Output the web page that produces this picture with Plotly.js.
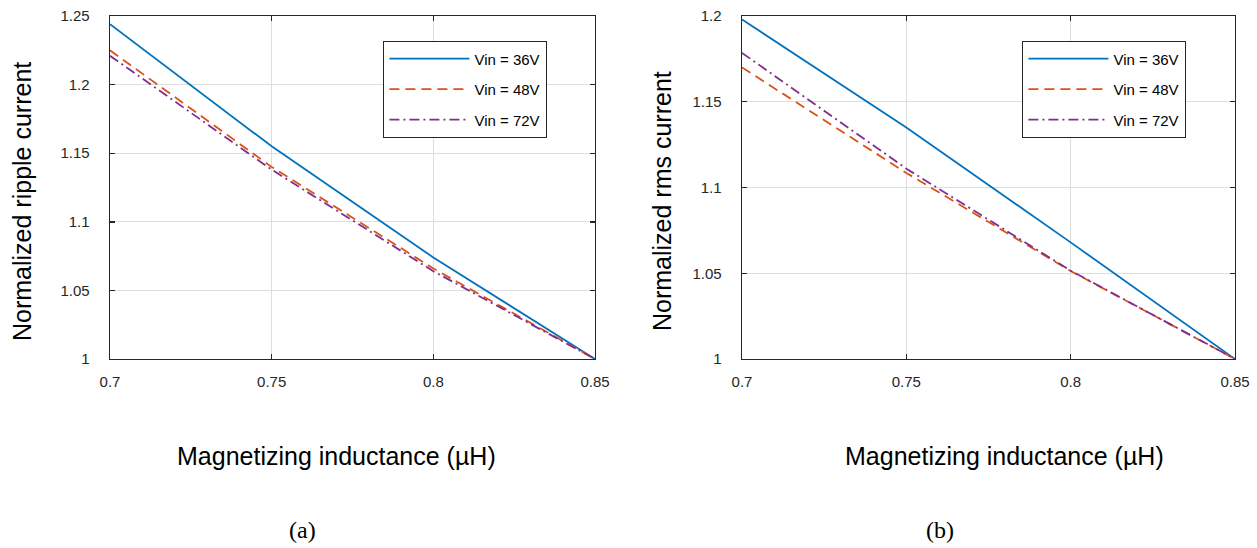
<!DOCTYPE html>
<html>
<head>
<meta charset="utf-8">
<script src="https://cdn.plot.ly/plotly-3.0.1.min.js"></script>
<style>html,body{margin:0;padding:0;background:#fff;}</style>
</head>
<body>
<div id="chart" style="width:1257px;height:548px;"></div>
<script>
// ---- data ----
const inductance = [0.7, 0.75, 0.8, 0.85];
const seriesNames = ['Vin = 36V', 'Vin = 48V', 'Vin = 72V'];

const rippleVin36 = [1.244, 1.155, 1.074, 1.0];
const rippleVin48 = [1.225, 1.140, 1.066, 1.0];
const rippleVin72 = [1.221, 1.138, 1.064, 1.0];

const rmsVin36 = [1.198, 1.135, 1.068, 1.0];
const rmsVin48 = [1.170, 1.1085, 1.0513, 1.0];
const rmsVin72 = [1.1785, 1.111, 1.0515, 1.0];

const xTickVals = [0.7, 0.75, 0.8, 0.85];
const xTickText = ['0.7', '0.75', '0.8', '0.85'];
const rippleTickVals = [1, 1.05, 1.1, 1.15, 1.2, 1.25];
const rippleTickText = ['1', '1.05', '1.1', '1.15', '1.2', '1.25'];
const rmsTickVals = [1, 1.05, 1.1, 1.15, 1.2];
const rmsTickText = ['1', '1.05', '1.1', '1.15', '1.2'];

const xTitle = 'Magnetizing inductance (µH)';
const yTitleA = 'Normalized ripple current';
const yTitleB = 'Normalized rms current';

// ---- styles ----
const W = 1257, H = 548;
const colors = ['#0072BD', '#D95319', '#7E2F8E'];
const dashes = ['solid', '10px,6px', '10px,4px,2px,4px'];
const FONT = 'Liberation Sans, Arial, Helvetica, sans-serif';

function mk(ys, i, xa, ya, leg) {
  return {
    x: inductance, y: ys, type: 'scatter', mode: 'lines',
    name: seriesNames[i], xaxis: xa, yaxis: ya, legend: leg,
    legendgroup: leg + i,
    line: {color: colors[i], width: 1.8, dash: dashes[i]}
  };
}

const traces = [
  mk(rippleVin36, 0, 'x', 'y', 'legend'),
  mk(rippleVin48, 1, 'x', 'y', 'legend'),
  mk(rippleVin72, 2, 'x', 'y', 'legend'),
  mk(rmsVin36, 0, 'x2', 'y2', 'legend2'),
  mk(rmsVin48, 1, 'x2', 'y2', 'legend2'),
  mk(rmsVin72, 2, 'x2', 'y2', 'legend2')
];

const axisStyle = {
  showline: true, linecolor: '#262626', linewidth: 1.4, mirror: 'ticks',
  ticks: 'inside', ticklen: 5, tickwidth: 1.4, tickcolor: '#262626',
  showgrid: true, gridcolor: '#dedede', gridwidth: 1, zeroline: false,
  tickfont: {family: FONT, size: 15, color: '#262626'}, fixedrange: true
};

const yDom = [1 - 359 / H, 1 - 16 / H];

function legendAt(px) {
  return {
    x: px / W, y: 1 - 41 / H, xanchor: 'left', yanchor: 'top',
    bgcolor: '#ffffff', bordercolor: '#262626', borderwidth: 1.4,
    itemwidth: 80, tracegroupgap: 8,
    font: {family: FONT, size: 15, color: '#000000'}
  };
}

function ann(text, px, py, size, family, angle) {
  return {
    text: text, xref: 'paper', yref: 'paper', x: px / W, y: 1 - py / H,
    xanchor: 'center', yanchor: 'middle', showarrow: false,
    textangle: angle || 0, font: {family: family, size: size, color: '#000000'}
  };
}

const layout = {
  width: W, height: H,
  margin: {l: 0, r: 0, t: 0, b: 0},
  paper_bgcolor: '#ffffff', plot_bgcolor: '#ffffff',
  font: {family: FONT, size: 15, color: '#262626'},
  showlegend: true,
  xaxis: Object.assign({}, axisStyle, {domain: [110 / W, 595 / W], range: [0.7, 0.85], anchor: 'y',
    tickvals: xTickVals, ticktext: xTickText, ticklabelstandoff: 9}),
  yaxis: Object.assign({}, axisStyle, {domain: yDom, range: [1, 1.25], anchor: 'x',
    tickvals: rippleTickVals, ticktext: rippleTickText, ticklabelstandoff: 16}),
  xaxis2: Object.assign({}, axisStyle, {domain: [742 / W, 1235 / W], range: [0.7, 0.85], anchor: 'y2',
    tickvals: xTickVals, ticktext: xTickText, ticklabelstandoff: 9}),
  yaxis2: Object.assign({}, axisStyle, {domain: yDom, range: [1, 1.2], anchor: 'x2',
    tickvals: rmsTickVals, ticktext: rmsTickText, ticklabelstandoff: 16}),
  legend: legendAt(383),
  legend2: legendAt(1022),
  annotations: [
    ann(yTitleA, 22, 202, 25, FONT, -90),
    ann(yTitleB, 662, 201, 25, FONT, -90),
    ann(xTitle, 336, 456, 25, FONT),
    ann(xTitle, 1004, 456, 25, FONT),
    ann('(a)', 302, 530, 24, 'Liberation Serif, Times New Roman, serif'),
    ann('(b)', 940, 530, 24, 'Liberation Serif, Times New Roman, serif')
  ]
};

Plotly.newPlot('chart', traces, layout, {displayModeBar: false, staticPlot: true});
</script>
</body>
</html>
